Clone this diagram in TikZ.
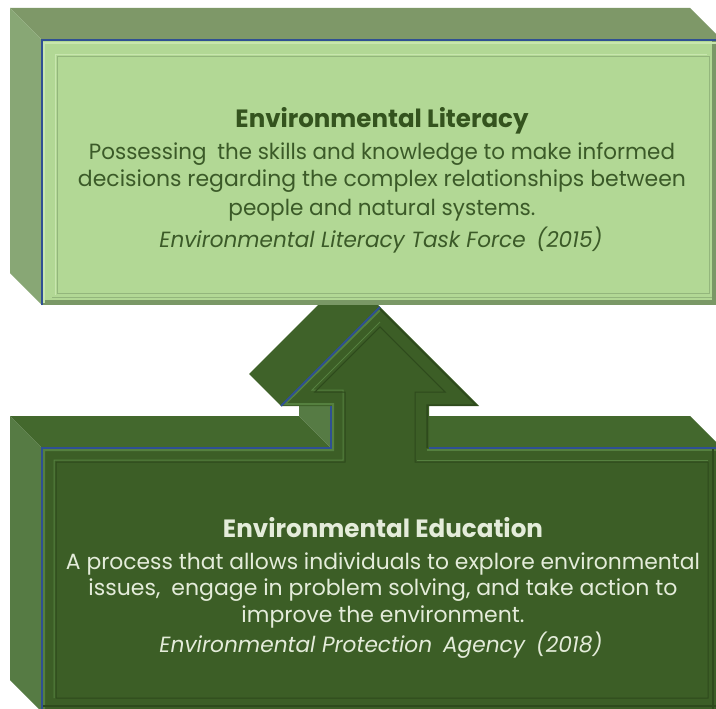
\documentclass[tikz,border=0pt]{standalone}
\usepackage{fontspec}
\setmainfont{Poppins}
\usepackage{graphicx}
\definecolor{topA}{HTML}{7E9868}
\definecolor{leftA}{HTML}{88A775}
\definecolor{frontA}{HTML}{B2D895}
\definecolor{hiA}{HTML}{C8E6AE}
\definecolor{loA}{HTML}{93B67C}
\definecolor{shA}{HTML}{7A9866}
\definecolor{txtA}{HTML}{3B5A28}
\definecolor{hdA}{HTML}{34531E}
\definecolor{topB}{HTML}{43682D}
\definecolor{diagB}{HTML}{3F6229}
\definecolor{leftB}{HTML}{567B44}
\definecolor{frontB}{HTML}{3C5E26}
\definecolor{hiB}{HTML}{55803F}
\definecolor{loB}{HTML}{2E4A1C}
\definecolor{txtB}{HTML}{E4ECDA}
\definecolor{edgeblue}{HTML}{2F5093}
\tikzset{
  blueedge/.style={draw=edgeblue, line width=1.8pt, line join=miter},
  txtnode/.style={anchor=base, inner sep=0pt},
}
\newcommand{\fitline}[2]{\resizebox{#1}{\height}{#2}}
\begin{document}
\begin{tikzpicture}[x=1pt,y=-1pt]
\useasboundingbox (0,0) rectangle (716,709);
\clip (0,0) rectangle (716,709);
\fill[white] (0,0) rectangle (716,709);

% ---------- bottom shape (arrow + box) ----------
\fill[topB] (10,416) -- (299,416) -- (331,448) -- (42,448) -- cycle;
\fill[topB] (397,416) -- (690,416) -- (722,448) -- (429,448) -- cycle;
\fill[leftB] (10,416) -- (42,448) -- (42,712) -- (10,680) -- cycle;
\fill[leftB] (299,374) -- (331,406) -- (331,448) -- (299,416) -- cycle;
\fill[diagB] (281,406) -- (380,307) -- (348,275) -- (249,374) -- cycle;
\fill[frontB] (42,448) -- (331,448) -- (331,406) -- (281,406) -- (380,307)
  -- (479,406) -- (429,406) -- (429,448) -- (722,448) -- (722,712) -- (42,712) -- cycle;
% bevel
\draw[hiB, line width=2pt] (44,712) -- (44,450) -- (333,450) -- (333,404) -- (285,404) -- (380,310);
\draw[hiB, line width=2pt] (427,450) -- (722,450);
\draw[loB, line width=1.5pt] (380,309) -- (476,405) -- (427,405) -- (427,448);
\draw[hiB, line width=1pt] (54,698) -- (54,460) -- (343,460) -- (343,390) -- (312,390) -- (380,322);
\draw[hiB, line width=1pt] (417,460) -- (708,460);
\draw[loB, line width=1pt] (56,462) -- (345,462) -- (345,392) -- (314.8,392) -- (380,326.8)
  -- (445.2,392) -- (415,392) -- (415,462) -- (708,462) -- (708,698) -- (56,698) -- cycle;
\draw[loB, line width=2pt] (713,448) -- (713,712);
\draw[loB, line width=1.5pt] (42,706) -- (722,706);
\draw[blueedge] (42,712) -- (42,448) -- (331,448) -- (331,406);
\draw[blueedge] (281,406) -- (380,307);
\draw[blueedge] (429,448) -- (722,448);

% ---------- top box (Environmental Literacy) ----------
\fill[topA] (10,8) -- (690,8) -- (722,40) -- (42,40) -- cycle;
\fill[leftA] (10,8) -- (42,40) -- (42,305) -- (10,273) -- cycle;
\fill[frontA] (42,40) rectangle (722,305);
% bevel
\fill[shA] (42,300) rectangle (722,305);
\fill[shA] (712,40) rectangle (722,305);
\draw[hiA, line width=2pt] (44,303) -- (44,43) -- (720,43);
\draw[hiA, line width=1pt] (55,295) -- (55,55) -- (707,55);
\draw[loA, line width=1pt] (57,293) rectangle (709,57);
\draw[loA, line width=1pt] (52,297) -- (712,297);
\draw[blueedge] (42,305) -- (42,40) -- (722,40);

% ---------- texts ----------
\node[txtnode, text=hdA, font=\fontsize{25}{30}\selectfont\bfseries] (litH) at (382,128)
  {\fitline{293pt}{Environmental Literacy}};
\node[txtnode, text=txtA, font=\fontsize{22}{26}\selectfont] (litL1) at (382,159)
  {\fitline{586pt}{Possessing\hspace{0.5em}the skills and knowledge to make informed}};
\node[txtnode, text=txtA, font=\fontsize{22}{26}\selectfont] (litL2) at (382,186)
  {\fitline{608pt}{decisions regarding the complex relationships between}};
\node[txtnode, text=txtA, font=\fontsize{22}{26}\selectfont] (litL3) at (382,215)
  {\fitline{307pt}{people and natural systems.}};
\node[txtnode, text=txtA, font=\fontsize{22}{26}\selectfont\itshape] (litS) at (381,247)
  {\fitline{443pt}{Environmental Literacy Task Force\hspace{0.5em}(2015)}};

\node[txtnode, text=txtB, font=\fontsize{25}{30}\selectfont\bfseries] (eduH) at (383,537)
  {\fitline{320pt}{Environmental Education}};
\node[txtnode, text=txtB, font=\fontsize{22}{26}\selectfont] (eduL1) at (383,569)
  {\fitline{634pt}{A process that allows individuals to explore environmental}};
\node[txtnode, text=txtB, font=\fontsize{22}{26}\selectfont] (eduL2) at (383,595)
  {\fitline{589pt}{issues,\hspace{0.5em}engage in problem solving, and take action to}};
\node[txtnode, text=txtB, font=\fontsize{22}{26}\selectfont] (eduL3) at (383,622)
  {\fitline{283pt}{improve the environment.}};
\node[txtnode, text=txtB, font=\fontsize{22}{26}\selectfont\itshape] (eduS) at (381,652)
  {\fitline{443pt}{Environmental Protection\hspace{0.5em}Agency\hspace{0.5em}(2018)}};
\end{tikzpicture}
\end{document}
